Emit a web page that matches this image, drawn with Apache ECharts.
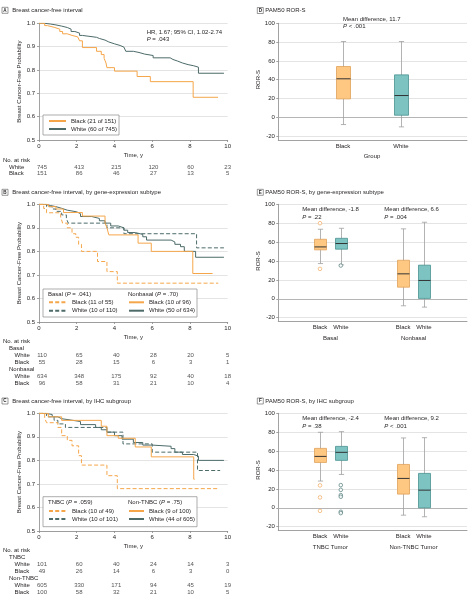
<!DOCTYPE html>
<html><head><meta charset="utf-8">
<script src="https://cdn.jsdelivr.net/npm/echarts@6/dist/echarts.min.js"></script>
<style>html,body{margin:0;padding:0;background:#fff}#c{width:468px;height:600px}</style>
</head><body><div id="c"></div>
<script>
// ---------------- DATA ----------------
const timeTicks = [0, 2, 4, 6, 8, 10];

// Panel A: Kaplan-Meier [time, survival]
const kmA_white = [[0,1],[0.3,0.997],[0.6,0.993],[0.9,0.988],[1.2,0.982],[1.5,0.975],[1.7,0.965],[1.9,0.958],[2.15,0.948],[2.3,0.94],[3.05,0.935],[3.2,0.928],[3.5,0.92],[3.7,0.912],[4.0,0.905],[4.3,0.898],[4.5,0.89],[4.6,0.88],[5.0,0.875],[5.3,0.868],[5.6,0.862],[6.05,0.852],[6.95,0.845],[7.1,0.838],[7.35,0.83],[7.6,0.823],[7.9,0.818],[8.2,0.812],[8.45,0.786],[9.8,0.786]];
const kmA_black = [[0,1],[0.3,0.99],[0.45,0.983],[0.8,0.975],[1.1,0.965],[1.25,0.955],[1.5,0.948],[1.75,0.942],[2.05,0.935],[2.15,0.925],[2.3,0.896],[3.05,0.88],[3.3,0.866],[3.45,0.85],[3.55,0.83],[3.6,0.81],[4.0,0.795],[5.2,0.772],[5.9,0.75],[8.17,0.683],[9.49,0.683]];

// Panel B
const kmB_basalBlack = [[0,1],[0.25,0.982],[0.4,0.964],[1.15,0.945],[1.25,0.92],[1.5,0.9],[1.75,0.875],[1.95,0.86],[2.1,0.83],[2.25,0.8],[3.1,0.757],[3.6,0.714],[4.15,0.665],[9.5,0.665]];
const kmB_basalWhite = [[0,1],[0.4,0.99],[0.7,0.98],[0.9,0.97],[1.2,0.955],[1.45,0.94],[1.55,0.92],[3.6,0.9],[4.5,0.875],[8.35,0.815],[9.8,0.815]];
const kmB_nonBlack = [[0,1],[0.5,0.99],[0.9,0.98],[1.3,0.965],[2.3,0.95],[3.5,0.92],[3.6,0.9],[3.7,0.87],[5.25,0.835],[5.95,0.8],[8.15,0.706],[9.2,0.706]];
const kmB_nonWhite = [[0,1],[0.3,0.995],[0.6,0.99],[0.9,0.983],[1.2,0.975],[1.5,0.968],[2.0,0.96],[2.2,0.948],[2.8,0.94],[3.2,0.93],[3.5,0.92],[3.8,0.908],[4.2,0.9],[4.5,0.89],[4.7,0.88],[5.1,0.872],[5.5,0.862],[5.7,0.848],[7.0,0.84],[7.2,0.83],[7.5,0.82],[7.7,0.8],[8.3,0.775],[9.8,0.775]];

// Panel C
const kmC_tnbcBlack = [[0,1],[0.3,0.98],[0.4,0.96],[1.0,0.94],[1.2,0.905],[1.5,0.885],[1.75,0.862],[2.1,0.82],[2.25,0.78],[3.6,0.735],[4.15,0.68],[9.5,0.68]];
const kmC_tnbcWhite = [[0,1],[0.4,0.985],[0.8,0.97],[1.0,0.955],[1.4,0.94],[3.6,0.92],[4.45,0.87],[6.0,0.835],[8.4,0.757],[9.6,0.757]];
const kmC_nonBlack = [[0,1],[0.5,0.985],[1.2,0.97],[3.3,0.945],[3.6,0.905],[4.2,0.894],[5.1,0.857],[5.95,0.815],[8.2,0.72],[8.25,0.72]];
const kmC_nonWhite = [[0,1],[0.3,0.995],[0.7,0.985],[1.0,0.977],[1.2,0.97],[1.8,0.965],[2.2,0.952],[3.0,0.94],[3.3,0.93],[3.6,0.92],[4.0,0.905],[4.4,0.89],[5.0,0.876],[5.5,0.865],[6.0,0.86],[7.0,0.85],[7.2,0.835],[7.6,0.825],[8.2,0.818],[8.45,0.8],[9.8,0.8]];

// Number at risk
const riskA_rows = ['No. at risk', 'White', 'Black'];
const riskA_white = [745, 413, 215, 120, 60, 23];
const riskA_black = [151, 86, 46, 27, 13, 5];
const riskB_rows = ['No. at risk', 'Basal', 'White', 'Black', 'Nonbasal', 'White', 'Black'];
const riskB_basalWhite = [110, 65, 40, 28, 20, 5];
const riskB_basalBlack = [55, 28, 15, 6, 3, 1];
const riskB_nonWhite = [634, 348, 175, 92, 40, 18];
const riskB_nonBlack = [96, 58, 31, 21, 10, 4];
const riskC_rows = ['No. at risk', 'TNBC', 'White', 'Black', 'Non-TNBC', 'White', 'Black'];
const riskC_tnbcWhite = [101, 60, 40, 24, 14, 3];
const riskC_tnbcBlack = [49, 26, 14, 6, 3, 0];
const riskC_nonWhite = [605, 330, 171, 94, 45, 19];
const riskC_nonBlack = [100, 58, 32, 21, 10, 5];

// Box plots: [min, Q1, median, Q3, max]
const dCats = ['Black', 'White'];
const dBlack = [-7.8, 19.5, 40.9, 54.0, 80.6];
const dWhite = [-10.3, 2.1, 23.1, 45.1, 80.6];
const eCats = ['Black', 'White', '', '', 'Black', 'White'];
const eGroups = ['Basal', '', 'Nonbasal'];
const eBasalBlack = [37.3, 51.8, 54.9, 63.0, 73.6];
const eBasalBlackOut = [80, 31.7];
const eBasalWhite = [35.9, 52.5, 58.5, 64.0, 74.6];
const eBasalWhiteOut = [35.2];
const eNonBlack = [-7.4, 12.3, 26.4, 40.8, 74.0];
const eNonWhite = [-8.8, 0.4, 19.4, 35.6, 81.0];
const fCats = ['Black', 'White', '', '', 'Black', 'White'];
const fGroups = ['TNBC Tumor', '', 'Non-TNBC Tumor'];
const fTnbcBlack = [28.3, 48.0, 54.4, 62.9, 79.9];
const fTnbcBlackOut = [23.7, 11.0, -3.2];
const fTnbcWhite = [35.3, 50.2, 58.7, 65.0, 80.6];
const fTnbcWhiteOut = [24, 19, 13.4, 11.7, -4.2, -5.6];
const fNonBlack = [-7.8, 14.5, 31.1, 45.9, 73.9];
const fNonWhite = [-9.5, 0.0, 18.7, 36.4, 74.2];

// ---------------- STYLE ----------------
const FF = '"Liberation Sans", Arial, sans-serif';
const TXT = '#231f20';
const ORANGE = '#F5A64A';
const TEAL = '#4C6B69';
const BOX_O = '#FFC882', BOX_O_LINE = '#E0A15C';
const BOX_T = '#7CC3C2', BOX_T_LINE = '#4A9290';
const OUT_O = '#EFA04E', OUT_T = '#3F6E6C';
const AXIS = '#8a8a8a', GRIDC = '#dddddd';
const FS = 6;
const DASH = [4, 2.2];

const chart = echarts.init(document.getElementById('c'), null, {renderer: 'canvas'});

const grid = [], xAxis = [], yAxis = [], series = [];
function addGrid(g) { grid.push(Object.assign({containLabel: false}, g)); return grid.length - 1; }
function addX(o) { xAxis.push(o); return xAxis.length - 1; }
function addY(o) { yAxis.push(o); return yAxis.length - 1; }
const txtStyle = {fontSize: FS, fontFamily: FF, color: TXT};

function kmPanel(top, height, nameGap, curves) {
  const g = addGrid({left: 39, top: top, width: 188.7, height: height});
  const xi = addX({type: 'value', gridIndex: g, min: 0, max: 10, interval: 2,
    axisLine: {onZero: false, lineStyle: {color: AXIS, width: 0.8}},
    axisTick: {show: true, length: 2, lineStyle: {color: AXIS, width: 0.8}},
    axisLabel: Object.assign({margin: 3}, txtStyle), splitLine: {show: false},
    name: 'Time, y', nameLocation: 'middle', nameGap: nameGap, nameTextStyle: txtStyle});
  const yi = addY({type: 'value', gridIndex: g, min: 0.5, max: 1, interval: 0.1,
    axisLine: {show: true, onZero: false, lineStyle: {color: AXIS, width: 0.8}},
    axisTick: {show: true, length: 2, lineStyle: {color: AXIS, width: 0.8}},
    axisLabel: Object.assign({margin: 4, formatter: v => v.toFixed(1)}, txtStyle),
    splitLine: {show: true, lineStyle: {color: GRIDC, width: 0.8}},
    name: 'Breast Cancer-Free Probability', nameLocation: 'middle', nameGap: 15, nameRotate: 90,
    nameTextStyle: txtStyle});
  curves.forEach(c => series.push({type: 'line', name: c.name, xAxisIndex: xi, yAxisIndex: yi,
    data: c.data, step: 'end', symbol: 'none', silent: true, z: c.color === ORANGE ? 3 : 2,
    itemStyle: {color: c.color},
    lineStyle: {color: c.color, width: 1, type: c.dashed ? DASH : 'solid'}}));
}

function riskPanel(top, height, rows, indents, rowsData) {
  const g = addGrid({left: 39, top: top, width: 188.7, height: height});
  const xi = addX({type: 'value', gridIndex: g, min: 0, max: 10, show: false});
  const yi = addY({type: 'category', gridIndex: g, inverse: true,
    data: rows.map((r, i) => 'row' + i),
    axisLine: {show: false}, axisTick: {show: false}, splitLine: {show: false},
    axisLabel: {interval: 0, align: 'left', margin: 39, fontSize: FS, fontFamily: FF, color: TXT,
      formatter: (v, i) => '{l' + indents[i] + '|' + rows[i] + '}',
      rich: {l0: {fontSize: FS, fontFamily: FF, color: TXT, padding: [0, 0, 0, 0]},
             l1: {fontSize: FS, fontFamily: FF, color: TXT, padding: [0, 0, 0, 6]},
             l2: {fontSize: FS, fontFamily: FF, color: TXT, padding: [0, 0, 0, 11.5]}}}});
  const pts = [];
  rowsData.forEach(rd => rd.values.forEach((v, k) => pts.push([timeTicks[k], rd.row, v])));
  series.push({type: 'scatter', xAxisIndex: xi, yAxisIndex: yi, data: pts, symbolSize: 1, silent: true,
    itemStyle: {color: 'rgba(0,0,0,0)'},
    label: {show: true, position: 'inside', formatter: p => String(p.value[2]),
      fontSize: FS, fontFamily: FF, color: TXT}});
}

function boxRender(fill, stroke, w) {
  return function (params, api) {
    const x = api.value(0);
    const lo = api.coord([x, api.value(1)]);
    const q1 = api.coord([x, api.value(2)]);
    const md = api.coord([x, api.value(3)]);
    const q3 = api.coord([x, api.value(4)]);
    const hi = api.coord([x, api.value(5)]);
    const cx = Math.round(lo[0]) + 0.5, c = 2.6;
    const wl = {stroke: '#a0a0a0', lineWidth: 0.8};
    return {type: 'group', children: [
      {type: 'line', shape: {x1: cx, y1: hi[1], x2: cx, y2: lo[1]}, style: wl},
      {type: 'line', shape: {x1: cx - c, y1: hi[1], x2: cx + c, y2: hi[1]}, style: wl},
      {type: 'line', shape: {x1: cx - c, y1: lo[1], x2: cx + c, y2: lo[1]}, style: wl},
      {type: 'rect', shape: {x: cx - w / 2, y: q3[1], width: w, height: q1[1] - q3[1]},
        style: {fill: fill, stroke: stroke, lineWidth: 0.8}},
      {type: 'line', shape: {x1: cx - w / 2, y1: md[1], x2: cx + w / 2, y2: md[1]},
        style: {stroke: '#333333', lineWidth: 1}}
    ]};
  };
}

function boxPanel(cfg) {
  // frame: outer axis lines
  const gF = addGrid({left: 278.3, top: cfg.top, width: 188.7, height: cfg.frameH});
  const fmin = 100 - 120 * cfg.frameH / cfg.scaleH;
  addX({type: 'value', gridIndex: gF, min: 0, max: 1, axisLine: {show: true, onZero: false, lineStyle: {color: AXIS, width: 0.8}},
    axisTick: {show: false}, axisLabel: {show: false}, splitLine: {show: false}});
  addY({type: 'value', gridIndex: gF, min: fmin, max: 100, axisLine: {show: true, onZero: false, lineStyle: {color: AXIS, width: 0.8}},
    axisTick: {show: false}, axisLabel: {show: false}, splitLine: {show: false}});
  // scale: ticks, labels, grid lines, zero line
  const gS = addGrid({left: 278.3, top: cfg.top, width: 188.7, height: cfg.scaleH});
  addX({type: 'value', gridIndex: gS, min: 0, max: 1, axisLine: {show: true, onZero: true, lineStyle: {color: '#b5b5b5', width: 1}},
    axisTick: {show: false}, axisLabel: {show: false}, splitLine: {show: false}});
  addY({type: 'value', gridIndex: gS, min: -20, max: 100, interval: 20,
    axisLine: {show: false, onZero: false}, axisTick: {show: true, length: 2, lineStyle: {color: AXIS, width: 0.8}},
    axisLabel: Object.assign({margin: 3.5}, txtStyle),
    splitLine: {show: true, lineStyle: {color: GRIDC, width: 0.8}},
    name: 'ROR-S', nameLocation: 'middle', nameGap: 15, nameRotate: 90, nameTextStyle: txtStyle});
  // boxes
  const gB = addGrid({left: cfg.boxLeft, top: cfg.top, width: cfg.boxW, height: cfg.scaleH});
  const cats = cfg.cats;
  const xi = addX(Object.assign({type: 'category', gridIndex: gB, position: 'bottom', boundaryGap: true,
    data: cats.map((c, i) => 'c' + i), axisLine: {show: false}, axisTick: {show: false}, splitLine: {show: false},
    axisLabel: Object.assign({interval: 0, margin: 7, formatter: (v, i) => cats[i]}, txtStyle)},
    cfg.xName ? {name: cfg.xName, nameLocation: 'middle', nameGap: 17, nameTextStyle: txtStyle} : {}));
  if (cfg.groups) {
    const gr = cfg.groups;
    addX({type: 'category', gridIndex: gB, position: 'bottom', boundaryGap: true,
      data: gr.map((c, i) => 'g' + i), axisLine: {show: false}, axisTick: {show: false}, splitLine: {show: false},
      axisLabel: Object.assign({interval: 0, margin: 17.5, formatter: (v, i) => gr[i]}, txtStyle)});
  }
  const yi = addY({type: 'value', gridIndex: gB, min: -20, max: 100, show: false});
  series.push({type: 'custom', xAxisIndex: xi, yAxisIndex: yi, silent: true, z: 3,
    renderItem: boxRender(BOX_O, BOX_O_LINE, cfg.bw), encode: {x: 0, y: [1, 2, 3, 4, 5]},
    data: cfg.black.map(b => [b.idx].concat(b.v))});
  series.push({type: 'custom', xAxisIndex: xi, yAxisIndex: yi, silent: true, z: 3,
    renderItem: boxRender(BOX_T, BOX_T_LINE, cfg.bw), encode: {x: 0, y: [1, 2, 3, 4, 5]},
    data: cfg.white.map(b => [b.idx].concat(b.v))});
  const outs = [];
  cfg.black.forEach(b => (b.out || []).forEach(o => outs.push({value: [b.idx, o], c: OUT_O})));
  cfg.white.forEach(b => (b.out || []).forEach(o => outs.push({value: [b.idx, o], c: OUT_T})));
  if (outs.length) series.push({type: 'scatter', xAxisIndex: xi, yAxisIndex: yi, silent: true, z: 4,
    symbol: 'circle', symbolSize: 3.6,
    data: outs.map(o => ({value: o.value, itemStyle: {color: '#ffffff', borderColor: o.c, borderWidth: 0.8}}))});
}

// ---- KM panels ----
kmPanel(23.3, 116.7, 12, [
  {name: 'Black (21 of 151)', data: kmA_black, color: ORANGE},
  {name: 'White (60 of 745)', data: kmA_white, color: TEAL}]);
riskPanel(157.45, 19.5, riskA_rows, [0, 1, 1], [
  {row: 1, values: riskA_white}, {row: 2, values: riskA_black}]);

kmPanel(204.3, 117.7, 12.5, [
  {name: 'Black (11 of 55)', data: kmB_basalBlack, color: ORANGE, dashed: true},
  {name: 'White (10 of 110)', data: kmB_basalWhite, color: TEAL, dashed: true},
  {name: 'Black (10 of 96)', data: kmB_nonBlack, color: ORANGE},
  {name: 'White (50 of 634)', data: kmB_nonWhite, color: TEAL}]);
riskPanel(338.2, 48.5, riskB_rows, [0, 1, 2, 2, 1, 2, 2], [
  {row: 2, values: riskB_basalWhite}, {row: 3, values: riskB_basalBlack},
  {row: 5, values: riskB_nonWhite}, {row: 6, values: riskB_nonBlack}]);

kmPanel(413.3, 117.7, 12.5, [
  {name: 'Black (10 of 49)', data: kmC_tnbcBlack, color: ORANGE, dashed: true},
  {name: 'White (10 of 101)', data: kmC_tnbcWhite, color: TEAL, dashed: true},
  {name: 'Black (9 of 100)', data: kmC_nonBlack, color: ORANGE},
  {name: 'White (44 of 605)', data: kmC_nonWhite, color: TEAL}]);
riskPanel(547.25, 48.3, riskC_rows, [0, 1, 2, 2, 1, 2, 2], [
  {row: 2, values: riskC_tnbcWhite}, {row: 3, values: riskC_tnbcBlack},
  {row: 5, values: riskC_nonWhite}, {row: 6, values: riskC_nonBlack}]);

// ---- Box panels ----
boxPanel({top: 23.3, frameH: 116.7, scaleH: 112.7, boxLeft: 314, boxW: 116, bw: 14, cats: dCats, xName: 'Group',
  black: [{idx: 0, v: dBlack}], white: [{idx: 1, v: dWhite}]});
boxPanel({top: 204.3, frameH: 116.7, scaleH: 113.4, boxLeft: 309.6, boxW: 124.8, bw: 12, cats: eCats, groups: eGroups,
  black: [{idx: 0, v: eBasalBlack, out: eBasalBlackOut}, {idx: 4, v: eNonBlack}],
  white: [{idx: 1, v: eBasalWhite, out: eBasalWhiteOut}, {idx: 5, v: eNonWhite}]});
boxPanel({top: 413.3, frameH: 117, scaleH: 113.4, boxLeft: 309.6, boxW: 124.8, bw: 12, cats: fCats, groups: fGroups,
  black: [{idx: 0, v: fTnbcBlack, out: fTnbcBlackOut}, {idx: 4, v: fNonBlack}],
  white: [{idx: 1, v: fTnbcWhite, out: fTnbcWhiteOut}, {idx: 5, v: fNonWhite}]});

// ---- Legends ----
const legBase = {orient: 'vertical', itemHeight: 6, selectedMode: false, padding: 0, z: 6,
  textStyle: {fontSize: FS, fontFamily: FF, color: TXT, lineHeight: 6},
  itemStyle: {opacity: 0, borderWidth: 0}};
const legend = [
  Object.assign({}, legBase, {data: ['Black (21 of 151)', 'White (60 of 745)'], left: 43, top: 115,
    itemWidth: 17, itemGap: 2, padding: [3, 2, 3, 5], borderColor: '#8a8a8a', borderWidth: 0.7, backgroundColor: '#fff'}),
  Object.assign({}, legBase, {data: ['Black (11 of 55)', 'White (10 of 110)'], left: 48, top: 299.3, itemWidth: 18, itemGap: 2.4}),
  Object.assign({}, legBase, {data: ['Black (10 of 96)', 'White (50 of 634)'], left: 128, top: 299.3, itemWidth: 15, itemGap: 2.4}),
  Object.assign({}, legBase, {data: ['Black (10 of 49)', 'White (10 of 101)'], left: 48, top: 508, itemWidth: 18, itemGap: 2}),
  Object.assign({}, legBase, {data: ['Black (9 of 100)', 'White (44 of 605)'], left: 128, top: 508, itemWidth: 15, itemGap: 2})
];

// ---- Graphic texts ----
const rich = {i: {fontStyle: 'italic', fontSize: FS, fontFamily: FF, fill: TXT}};
function T(x, y, text, extra) {
  return Object.assign({type: 'text', x: x, y: y, z: 6,
    style: {text: text, fontSize: FS, fontFamily: FF, fill: TXT, align: 'left', verticalAlign: 'middle', rich: rich}}, extra || {});
}
function letterBox(x, y, L) {
  return [{type: 'rect', z: 6, shape: {x: x, y: y, width: 6, height: 6}, style: {fill: '#fff', stroke: '#555', lineWidth: 0.6}},
    {type: 'text', z: 7, x: x + 3, y: y + 3.2, style: {text: L, fontSize: 4.6, fontWeight: 'bold', fontFamily: FF, fill: TXT, align: 'center', verticalAlign: 'middle'}}];
}
const graphic = [].concat(
  letterBox(2, 7.3, 'A'), [T(12.3, 10.3, 'Breast cancer-free interval')],
  letterBox(257.3, 7.5, 'D'), [T(265.3, 10.3, 'PAM50 ROR-S')],
  letterBox(2, 189.3, 'B'), [T(12.3, 192.3, 'Breast cancer-free interval, by gene-expression subtype')],
  letterBox(257.3, 189.3, 'E'), [T(265.3, 192.3, 'PAM50 ROR-S, by gene-expression subtype')],
  letterBox(2, 398, 'C'), [T(12.3, 401, 'Breast cancer-free interval, by IHC subgroup')],
  letterBox(257.3, 398, 'F'), [T(265.3, 401, 'PAM50 ROR-S, by IHC subgroup')],
  [
    T(146.7, 32.3, 'HR, 1.67; 95% CI, 1.02-2.74'), T(146.7, 39, '{i|P} = .043'),
    T(343, 19, 'Mean difference, 11.7'), T(343, 26.7, '{i|P} < .001'),
    T(302.3, 209.3, 'Mean difference, -1.8'), T(302.3, 217, '{i|P} = .22'),
    T(384.3, 209.3, 'Mean difference, 6.6'), T(384.3, 217, '{i|P} = .004'),
    T(302.3, 418.3, 'Mean difference, -2.4'), T(302.3, 426, '{i|P} = .38'),
    T(384.3, 418.3, 'Mean difference, 9.2'), T(384.3, 426, '{i|P} < .001'),
    {type: 'rect', z: 1, shape: {x: 43, y: 289, width: 154, height: 28}, style: {fill: '#fff', stroke: '#8a8a8a', lineWidth: 0.7}},
    T(48, 294.3, 'Basal ({i|P} = .041)'), T(128, 294.3, 'Nonbasal ({i|P} = .70)'),
    {type: 'rect', z: 1, shape: {x: 43, y: 496.7, width: 154, height: 30}, style: {fill: '#fff', stroke: '#8a8a8a', lineWidth: 0.7}},
    T(48, 502.7, 'TNBC ({i|P} = .059)'), T(128, 502.7, 'Non-TNBC ({i|P} = .75)')
  ]
);

chart.setOption({
  animation: false,
  backgroundColor: '#ffffff',
  textStyle: {fontFamily: FF},
  grid: grid, xAxis: xAxis, yAxis: yAxis, series: series, legend: legend, graphic: graphic
});
</script></body></html>
